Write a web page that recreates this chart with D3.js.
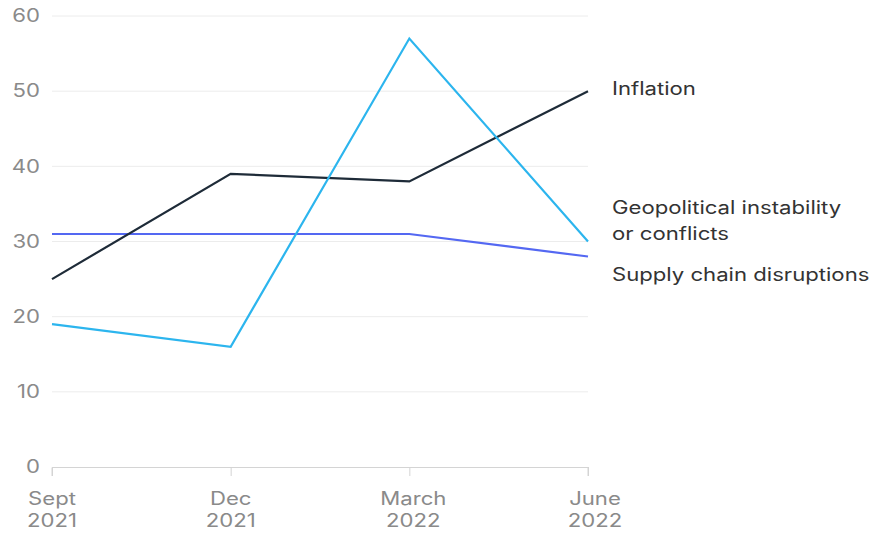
<!DOCTYPE html>
<html><head><meta charset="utf-8">
<script src="https://cdn.jsdelivr.net/npm/d3@7"></script>
<style>body{margin:0;background:#fff}svg{display:block}text{font-family:"Inter","Liberation Sans",sans-serif}</style>
</head><body><svg id="c" width="882" height="533"></svg>
<script>
const categories = [["Sept","2021"],["Dec","2021"],["March","2022"],["June","2022"]];
const inflation = [25, 39, 38, 50];
const geopolitical = [19, 16, 57, 30];
const supplyChain = [31, 31, 31, 28];
const yTicks = [0,10,20,30,40,50,60];
const seriesNames = ["Inflation", ["Geopolitical instability","or conflicts"], "Supply chain disruptions"];
const colors = ["#1e2b38", "#2cb5ee", "#5468f2"];
const SX = 1.23;

const svg = d3.select("#c");
const x = d3.scalePoint().domain(d3.range(categories.length)).range([52, 588]);
const y = d3.scaleLinear().domain([0, 60]).range([467, 16]);

function txt(g, tx, ty, s, anchor, fill, size) {
  return g.append("text").attr("transform", `translate(${tx},${ty}) scale(${SX},1)`)
    .attr("text-anchor", anchor).attr("dy","0.35em").attr("font-size", size||18)
    .attr("fill", fill).text(s);
}

// gridlines
svg.append("g").selectAll("line").data(yTicks.filter(d=>d>0)).join("line")
  .attr("x1", 52).attr("x2", 588).attr("y1", d=>y(d)).attr("y2", d=>y(d))
  .attr("stroke", "#ececec").attr("stroke-width", 1);
// y labels
const yl = svg.append("g");
yTicks.forEach(d => txt(yl, 40, y(d), d, "end", "#8a8a8a"));
// x axis
const xa = svg.append("g").attr("transform", `translate(0,${y(0)})`)
  .call(d3.axisBottom(x).tickSize(9).tickFormat(""));
xa.select(".domain").attr("stroke", "#d4d4d4").attr("d", "M52,9V0.5H588V9");
xa.selectAll(".tick line").attr("stroke", "#d4d4d4");
const xl = svg.append("g");
categories.forEach((c, i) => {
  const cx = x(i) + (i === categories.length - 1 ? 7 : (i === 2 ? 4 : 0));
  txt(xl, cx, 499, c[0], "middle", "#8a8a8a");
  txt(xl, cx, 521, c[1], "middle", "#8a8a8a");
});

const line = d3.line().x((d,i)=>x(i)).y(d=>y(d));
[[supplyChain,2],[inflation,0],[geopolitical,1]].forEach(([s, ci]) => {
  svg.append("path").datum(s).attr("d", line).attr("fill","none")
    .attr("stroke", colors[ci]).attr("stroke-width", 2.2).attr("stroke-linejoin","miter");
});

// labels
const lab = svg.append("g");
txt(lab, 612, 89, seriesNames[0], "start", "#333");
txt(lab, 612, 208, seriesNames[1][0], "start", "#333");
txt(lab, 612, 234, seriesNames[1][1], "start", "#333");
txt(lab, 612, 275, seriesNames[2], "start", "#333");
</script></body></html>
